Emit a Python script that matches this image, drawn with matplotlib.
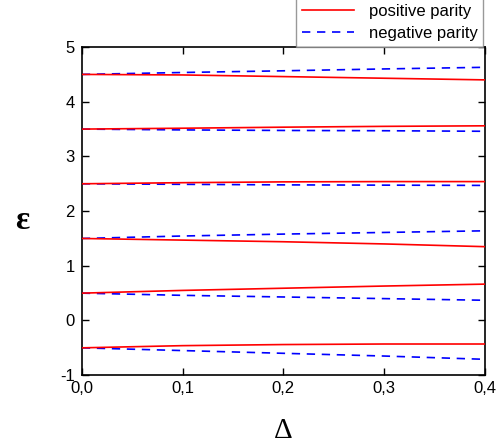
import numpy as np
import matplotlib
matplotlib.use("Agg")
import matplotlib.pyplot as plt
from matplotlib.ticker import FixedLocator, FuncFormatter

# =========================
# DATA
# =========================
delta = [0.0, 0.1, 0.2, 0.3, 0.4]

pos_levels = [
    [-0.50, -0.46, -0.44, -0.43, -0.43],
    [0.50, 0.55, 0.59, 0.63, 0.665],
    [1.50, 1.47, 1.44, 1.40, 1.35],
    [2.50, 2.52, 2.535, 2.54, 2.54],
    [3.50, 3.516, 3.535, 3.55, 3.56],
    [4.50, 4.49, 4.46, 4.43, 4.40],
]
neg_levels = [
    [-0.50, -0.55, -0.60, -0.65, -0.71],
    [0.50, 0.46, 0.43, 0.40, 0.37],
    [1.50, 1.545, 1.58, 1.61, 1.64],
    [2.50, 2.49, 2.48, 2.475, 2.47],
    [3.50, 3.485, 3.475, 3.47, 3.46],
    [4.50, 4.535, 4.566, 4.60, 4.63],
]

x_ticks = [0.0, 0.1, 0.2, 0.3, 0.4]
y_ticks = [-1, 0, 1, 2, 3, 4, 5]

plt.rcParams['font.family'] = ['Liberation Sans', 'DejaVu Sans']

fig = plt.figure(figsize=(5.02, 4.44), dpi=100)
ax = fig.add_axes([0.163, 0.155, 0.803, 0.739])

for i, lvl in enumerate(neg_levels):
    ax.plot(delta, lvl, color='blue', linestyle=(0, (5, 4)), linewidth=1.2,
            label='negative parity' if i == 0 else None, zorder=2)
for i, lvl in enumerate(pos_levels):
    ax.plot(delta, lvl, color='red', linewidth=1.2,
            label='positive parity' if i == 0 else None, zorder=3)

ax.set_xlim(0, 0.4)
ax.set_ylim(-1, 5)
ax.xaxis.set_major_locator(FixedLocator(x_ticks))
ax.yaxis.set_major_locator(FixedLocator(y_ticks))
ax.xaxis.set_major_formatter(FuncFormatter(lambda v, p: f"{v:.1f}".replace('.', ',')))
ax.yaxis.set_major_formatter(FuncFormatter(lambda v, p: f"{int(round(v))}"))
ax.tick_params(direction='in', top=True, right=True, length=5, width=1,
               labelsize=12)
ax.tick_params(axis='y', pad=5)
ax.tick_params(axis='x', pad=4)
for sp in ax.spines.values():
    sp.set_linewidth(1.2)

ax.set_xlabel('Δ', fontsize=21, family='Liberation Serif', labelpad=16)
ax.set_ylabel('ε', fontsize=24, family='Liberation Serif', fontweight='bold',
              rotation=0, va='center', ha='center')
ax.yaxis.set_label_coords(-0.148, 0.47)

handles, labels = ax.get_legend_handles_labels()
order = [1, 0]
leg = fig.legend([handles[k] for k in order], [labels[k] for k in order],
                 loc='upper right', bbox_to_anchor=(0.963, 1.004),
                 borderaxespad=0.0,
                 fontsize=12, frameon=True, fancybox=False,
                 edgecolor='gray', handlelength=3.1, borderpad=0.35,
                 labelspacing=0.4, handletextpad=0.9)
leg.get_frame().set_linewidth(1.0)

fig.savefig('out.png', dpi=100)
